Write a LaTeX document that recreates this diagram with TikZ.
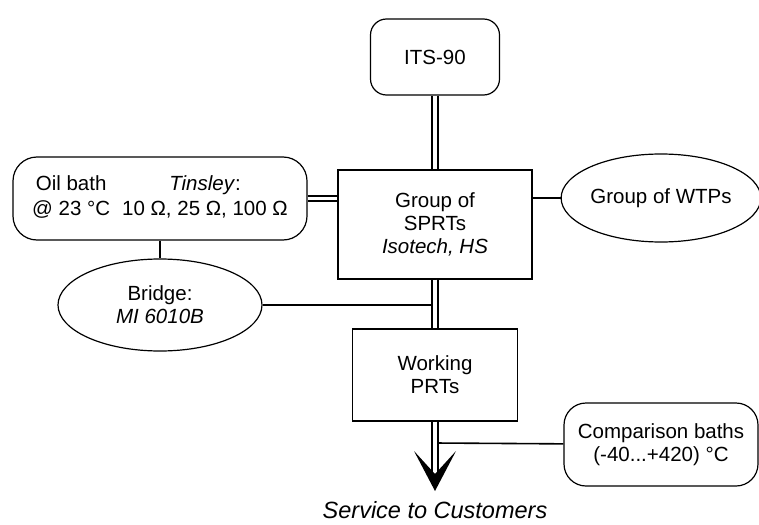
\documentclass[tikz,border=0pt]{standalone}
\usepackage{fontspec}
\setmainfont{Liberation Sans}
\usetikzlibrary{positioning,shapes.geometric}

\begin{document}
\begin{tikzpicture}[x=1pt,y=1pt,on grid,
		every node/.style={font=\fontsize{20.5}{23}\selectfont,align=center,inner sep=0pt},
		rbox/.style={draw,line width=1.2pt,rounded corners=#1},
		sbox/.style={draw,line width=1.1pt,rectangle},
		oval/.style={draw,line width=1.2pt,ellipse},
		link/.style={draw,line width=1.6pt},
		dbl/.style={draw,double,line width=1.8pt,double distance=3.6pt}]
			\useasboundingbox (0,0) rectangle (759,-524);
			\node[rbox=16pt,minimum width=129pt,minimum height=76pt] (its) at (435,-57) {ITS-90};
			\node[sbox,minimum width=194pt,minimum height=109pt] (sprt) [below=167.5pt of its] {Group of\\SPRTs\\\textit{Isotech, HS}};
			\node[sbox,minimum width=165pt,minimum height=92pt] (prt) [below=150.5pt of sprt] {Working\\PRTs};
			\node[rbox=24pt,minimum width=294pt,minimum height=83pt] (oil) [above left=26pt and 275pt of sprt]
				{\begin{tabular}{@{}c@{\hspace{12pt}}c@{}}Oil bath & \textit{Tinsley}:\\[2pt] @ 23 °C & 10 Ω, 25 Ω, 100 Ω\end{tabular}};
			\node[oval,minimum width=204pt,minimum height=92pt] (bridge) [below=106.5pt of oil] {Bridge:\\\textit{MI 6010B}};
			\node[oval,minimum width=194pt,minimum height=88pt] (wtp) [above right=26.5pt and 226pt of sprt] {Group of WTPs};
			\node[rbox=22pt,minimum width=194pt,minimum height=83pt] (cmp) [below right=69.5pt and 226pt of prt] {Comparison baths\\(-40...+420) °C};
			\node[font=\fontsize{23.5}{26}\selectfont\itshape] (svc) [below=135pt of prt] {Service to Customers};
			\coordinate (tip) at ([yshift=19pt]svc.center);
			\coordinate (notch) at ([yshift=17pt]tip);
			\path
			(oil) edge[link] (bridge)
			(bridge) edge[link] (bridge -| prt.north)
			(wtp) edge[link] (wtp -| sprt.east)
			(cmp) edge[link] ([yshift=1.5pt]cmp.west -| prt.south);
			\path
			(its) edge[dbl] (sprt)
			(sprt) edge[dbl] (prt)
			(oil.east) edge[dbl] (oil.east -| sprt.west)
			(prt) edge[dbl] (notch);
			\fill (tip) -- ++(-21,40) -- (notch) -- ++(21,23) -- cycle;
		\end{tikzpicture}
\end{document}
